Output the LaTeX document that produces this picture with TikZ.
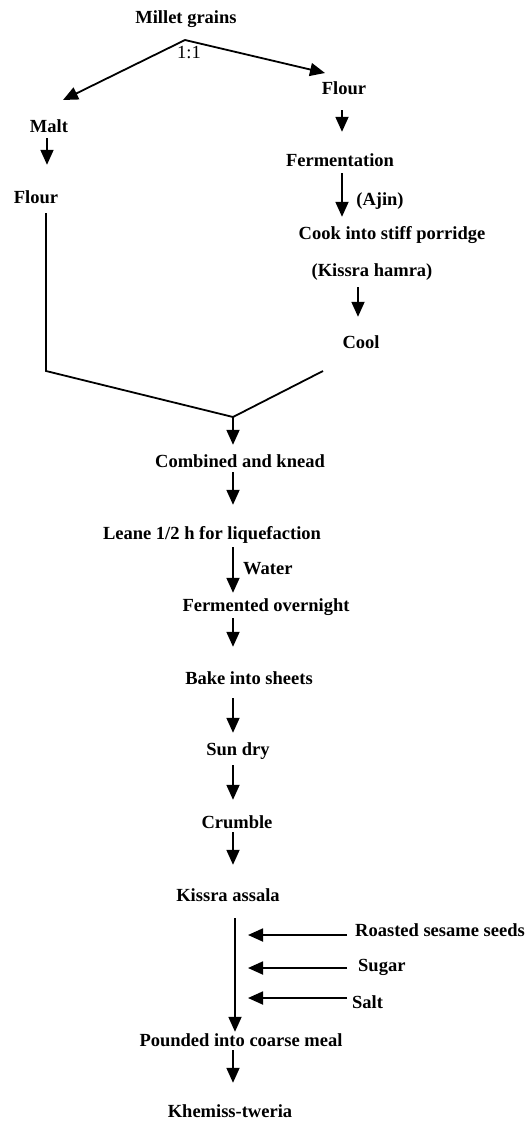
\documentclass[tikz,border=0pt]{standalone}
\usepackage{fontspec}
\setmainfont{Liberation Serif}
\usetikzlibrary{arrows.meta}
\begin{document}
\begin{tikzpicture}[x=1pt,y=-1pt,
  lbl/.style={font=\fontsize{18.5}{20}\selectfont\bfseries, inner sep=0pt, anchor=base, text height=12pt, text depth=4pt},
  lblw/.style={lbl, anchor=base west},
  plain/.style={font=\fontsize{18.5}{20}\selectfont, inner sep=0pt, anchor=base},
  conn/.style={line width=1.8pt},
  arr/.style={conn, -{Triangle[length=15pt,width=13pt]}}]
\useasboundingbox (0,0) rectangle (527,1122);

% nodes
\node[lbl] (mg) at (186,23) {Millet grains};
\node[plain] (ratio) at (189,58) {1:1};
\node[lbl] (flourR) at (344,94) {Flour};
\node[lbl] (malt) at (49,132) {Malt};
\node[lbl] (ferm) at (340,166) {Fermentation};
\node[lbl] (ajin) at (380,205) {(Ajin)};
\node[lbl] (flourL) at (36,203) {Flour};
\node[lbl] (cook) at (392,239) {Cook into stiff porridge};
\node[lbl] (kh) at (372,276) {(Kissra hamra)};
\node[lbl] (cool) at (361,348) {Cool};
\node[lbl] (comb) at (240,467) {Combined and knead};
\node[lbl] (leane) at (212,539) {Leane 1/2 h for liquefaction};
\node[lblw] (water) at (243,574) {Water};
\node[lbl] (fo) at (266,611) {Fermented overnight};
\node[lbl] (bake) at (249,684) {Bake into sheets};
\node[lbl] (sun) at (238,755) {Sun dry};
\node[lbl] (crumble) at (237,828) {Crumble};
\node[lbl] (ka) at (228,901) {Kissra assala};
\node[lblw] (rss) at (355,936) {Roasted sesame seeds};
\node[lblw] (sugar) at (358,971) {Sugar};
\node[lblw] (salt) at (352,1008) {Salt};
\node[lbl] (pounded) at (241,1046) {Pounded into coarse meal};
\node[lbl] (khem) at (230,1117) {Khemiss-tweria};

% junction coordinates
\coordinate (split) at (185,40);
\coordinate (tipL) at (63,100);
\coordinate (tipR) at (325,73);
\coordinate (bendL) at (46,371);
\coordinate (merge) at (233,417);
\coordinate (bendR) at (323,371);
\coordinate (spine) at (233,0);
\coordinate (spine2) at (235,0);
\coordinate (add1) at (248,935);
\coordinate (add2) at (248,968);
\coordinate (add3) at (248,998);

% split
\draw[arr] (split) -- (tipL);
\draw[arr] (split) -- (tipR);

% right branch
\draw[arr, shorten <=12pt, shorten >=22pt] (flourR.south) ++(-2,0) coordinate (fr) (fr) -- (fr |- ferm.north);
\draw[arr, shorten <=3pt, shorten >=10pt] (fr |- ferm.south) -- (fr |- cook.north);
\draw[arr, shorten <=7pt, shorten >=19pt] (kh.south -| 358,0) -- (cool.north -| 358,0);

% left branch
\draw[arr, shorten <=2pt, shorten >=26pt] (malt.south -| 47,0) -- (flourL.north -| 47,0);

% merge
\draw[conn, shorten <=6pt] (flourL.south -| bendL) -- (bendL) -- (merge) -- (bendR);
\draw[arr, shorten >=10pt] (merge) -- (merge |- comb.north);

% main column
\draw[arr, shorten <=1pt, shorten >=22pt] (comb.south -| spine) -- (leane.north -| spine);
\draw[arr, shorten <=4pt, shorten >=6pt] (leane.south -| spine) -- (fo.north -| spine);
\draw[arr, shorten <=3pt, shorten >=25pt] (fo.south -| spine) -- (bake.north -| spine);
\draw[arr, shorten <=10pt, shorten >=10pt] (bake.south -| spine) -- (sun.north -| spine);
\draw[arr, shorten <=6pt, shorten >=16pt] (sun.south -| spine) -- (crumble.north -| spine);
\draw[arr, shorten >=24pt] (crumble.south -| spine) -- (ka.north -| spine);
\draw[arr, shorten <=13pt, shorten >=2pt] (ka.south -| spine2) -- (pounded.north -| spine2);
\draw[arr, shorten >=22pt] (pounded.south -| spine) -- (khem.north -| spine);

% additions
\draw[arr, shorten <=8pt] (rss.west |- add1) -- (add1);
\draw[arr, shorten <=11pt] (sugar.west |- add2) -- (add2);
\draw[arr, shorten <=5pt] (salt.west |- add3) -- (add3);
\end{tikzpicture}
\end{document}
